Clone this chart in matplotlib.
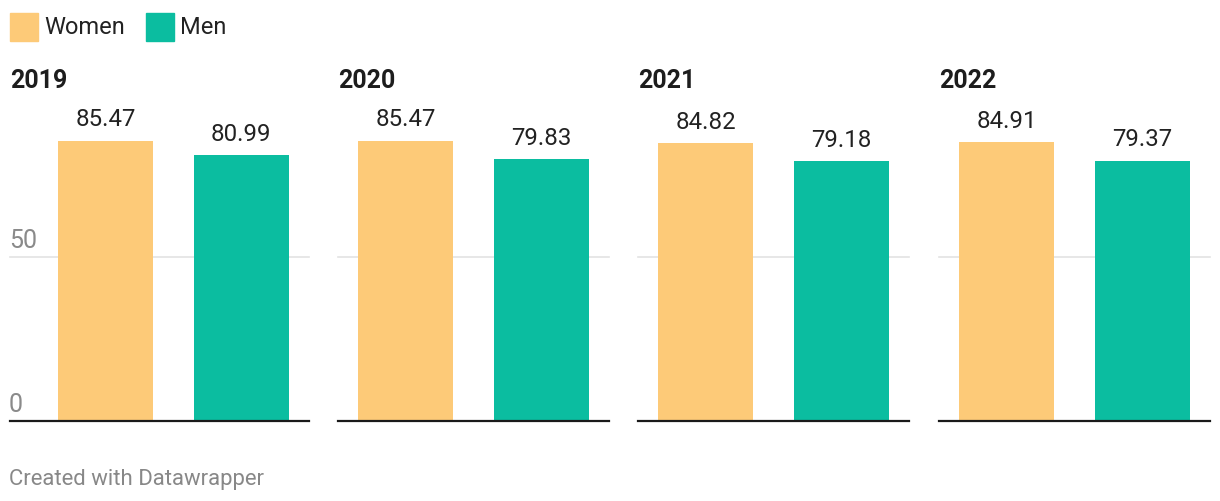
import matplotlib.pyplot as plt
from matplotlib.patches import Rectangle

# Data
years = ['2019', '2020', '2021', '2022']
women = [85.47, 85.47, 84.82, 84.91]
men = [80.99, 79.83, 79.18, 79.37]
series_names = ['Women', 'Men']
colors = ['#fdca78', '#0bbda0']
y_ticks = [0, 50]

W, H = 1220, 502
plt.rcParams['font.family'] = ['Roboto', 'DejaVu Sans']

fig = plt.figure(figsize=(W / 100, H / 100), dpi=100)


def fx(px):
    return px / W


def fy(px):
    return 1 - px / H


# panel geometry in pixels
lefts = [38, 338, 638, 939]
panel_w = 271
base_y, top_y = 422, 100
px_per_unit = 3.28

for i, year in enumerate(years):
    ax = fig.add_axes([fx(lefts[i]), fy(base_y), panel_w / W, (base_y - top_y) / H])
    ax.set_xlim(-0.5, 1.5)
    ax.set_ylim(0, (base_y - top_y) / px_per_unit)
    ax.axis('off')

    vals = [women[i], men[i]]
    bars = ax.bar([0, 1], vals, width=0.7, color=colors, zorder=2)
    for b, v in zip(bars, vals):
        ax.annotate(f'{v:.2f}', (b.get_x() + b.get_width() / 2, v),
                    xytext=(0, 11), textcoords='offset points',
                    ha='center', va='baseline', fontsize=17.3, color='#222222')

    xmin = (10 - lefts[0]) / panel_w if i == 0 else 0
    ax.axhline(50, xmin=xmin, xmax=1, color='#e3e3e3', lw=1.2, zorder=1, clip_on=False)
    ax.axhline(0, xmin=xmin, xmax=1, color='#1a1a1a', lw=1.6, zorder=3, clip_on=False)

    title_x = 10 if i == 0 else lefts[i]
    fig.text(fx(title_x), fy(88), year, fontsize=18, fontweight='bold',
             color='#1d1d1d', ha='left', va='baseline')

# y tick labels on first panel
for t, py in zip(y_ticks, [411.5, 248]):
    fig.text(fx(9), fy(py), str(t), fontsize=18, color='#8a8a8a',
             ha='left', va='baseline')

# legend
leg_x = [10, 146]
for name, c, lx in zip(series_names, colors, leg_x):
    fig.patches.append(Rectangle((fx(lx), fy(42)), 28 / W, 28 / H,
                                 transform=fig.transFigure, color=c))
    fig.text(fx(lx + 34), fy(34), name, fontsize=17, color='#222222',
             ha='left', va='baseline')

fig.text(fx(9), fy(485), 'Created with Datawrapper', fontsize=15.9,
         color='#888888', ha='left', va='baseline')

fig.savefig('out.png', dpi=100)
